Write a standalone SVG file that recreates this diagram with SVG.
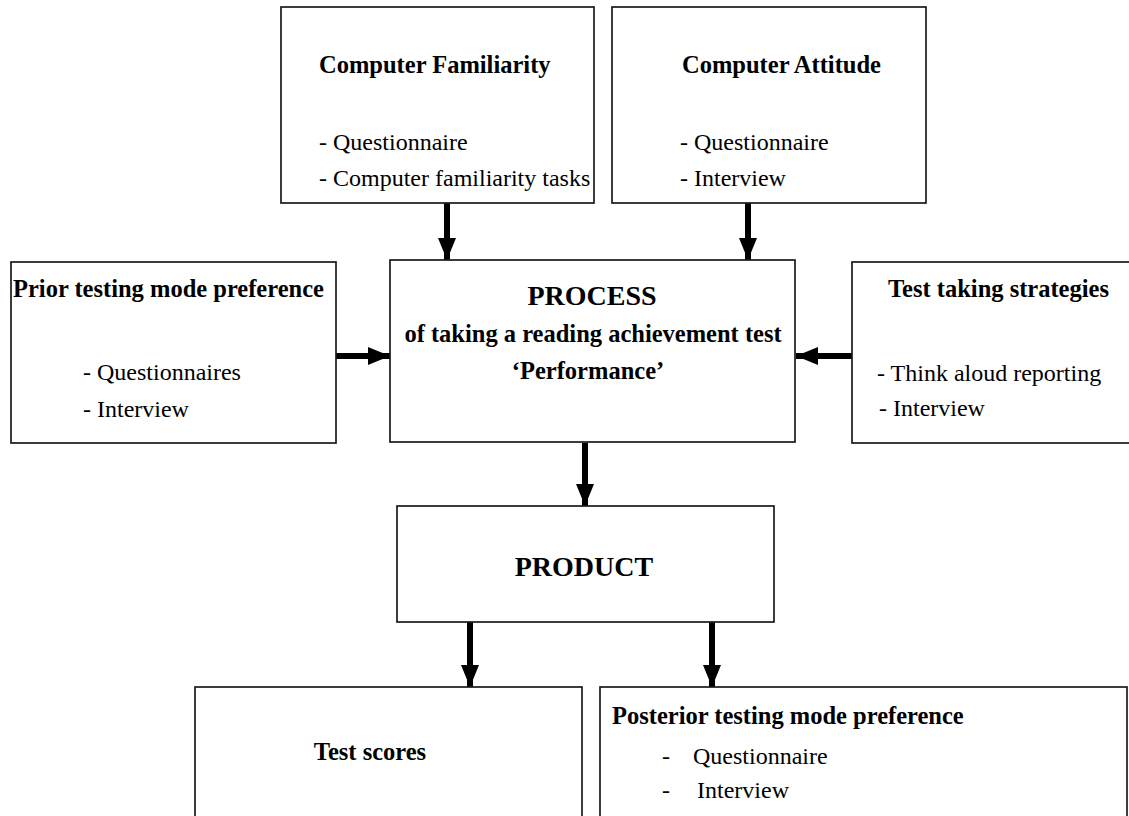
<svg xmlns="http://www.w3.org/2000/svg" width="1129" height="816" viewBox="0 0 1129 816">
<style>
.box{fill:#fff;stroke:#1a1a1a;stroke-width:1.7}
.h{font-family:"Liberation Serif","Times New Roman",serif;font-weight:bold;font-size:24.5px;fill:#000}
.big{font-family:"Liberation Serif","Times New Roman",serif;font-weight:bold;font-size:28px;fill:#000}
.t{font-family:"Liberation Serif","Times New Roman",serif;font-size:24px;fill:#000}
.c{text-anchor:middle}
.arr{stroke:#000;stroke-width:6;fill:none}
</style>
<defs>
<marker id="ah" markerUnits="userSpaceOnUse" markerWidth="24" markerHeight="20" refX="22" refY="10" orient="auto">
<path d="M0,1 L22,10 L0,19 Z" fill="#000"/>
</marker>
</defs>
<rect width="1129" height="816" fill="#fff"/>
<g id="connectors">
<line class="arr" x1="447" y1="203" x2="447" y2="260" marker-end="url(#ah)"/>
<line class="arr" x1="748" y1="203" x2="748" y2="260" marker-end="url(#ah)"/>
<line class="arr" x1="336" y1="356" x2="390" y2="356" marker-end="url(#ah)"/>
<line class="arr" x1="852" y1="356" x2="796" y2="356" marker-end="url(#ah)"/>
<line class="arr" x1="585" y1="443" x2="585" y2="506" marker-end="url(#ah)"/>
<line class="arr" x1="470" y1="622" x2="470" y2="687" marker-end="url(#ah)"/>
<line class="arr" x1="712" y1="622" x2="712" y2="687" marker-end="url(#ah)"/>
</g>
<g id="computer-familiarity">
<rect class="box" x="281" y="7" width="313" height="196"/>
<text class="h" x="319" y="73">Computer Familiarity</text>
<text class="t" x="319" y="150">- Questionnaire</text>
<text class="t" x="319" y="186">- Computer familiarity tasks</text>
</g>
<g id="computer-attitude">
<rect class="box" x="612" y="7" width="314" height="196"/>
<text class="h" x="682" y="73">Computer Attitude</text>
<text class="t" x="680" y="150">- Questionnaire</text>
<text class="t" x="680" y="186">- Interview</text>
</g>
<g id="prior">
<rect class="box" x="11" y="262" width="325" height="181"/>
<text class="h" x="13" y="297">Prior testing mode preference</text>
<text class="t" x="83" y="380">- Questionnaires</text>
<text class="t" x="83" y="417">- Interview</text>
</g>
<g id="process">
<rect class="box" x="390" y="260" width="405" height="182"/>
<text class="big c" x="592" y="305">PROCESS</text>
<text class="h c" x="593" y="342">of taking a reading achievement test</text>
<text class="h c" x="588" y="379">‘Performance’</text>
</g>
<g id="strategies">
<rect class="box" x="852" y="262" width="300" height="181"/>
<text class="h" x="888" y="297">Test taking strategies</text>
<text class="t" x="877" y="381">- Think aloud reporting</text>
<text class="t" x="879" y="416">- Interview</text>
</g>
<g id="product">
<rect class="box" x="397" y="506" width="377" height="116"/>
<text class="big c" x="584" y="576">PRODUCT</text>
</g>
<g id="test-scores">
<rect class="box" x="195" y="687" width="387" height="140"/>
<text class="h c" x="370" y="760">Test scores</text>
</g>
<g id="posterior">
<rect class="box" x="600" y="687" width="527" height="140"/>
<text class="h" x="612" y="724">Posterior testing mode preference</text>
<text class="t" x="662" y="764">-</text>
<text class="t" x="693" y="764">Questionnaire</text>
<text class="t" x="662" y="798">-</text>
<text class="t" x="697" y="798">Interview</text>
</g>
</svg>
